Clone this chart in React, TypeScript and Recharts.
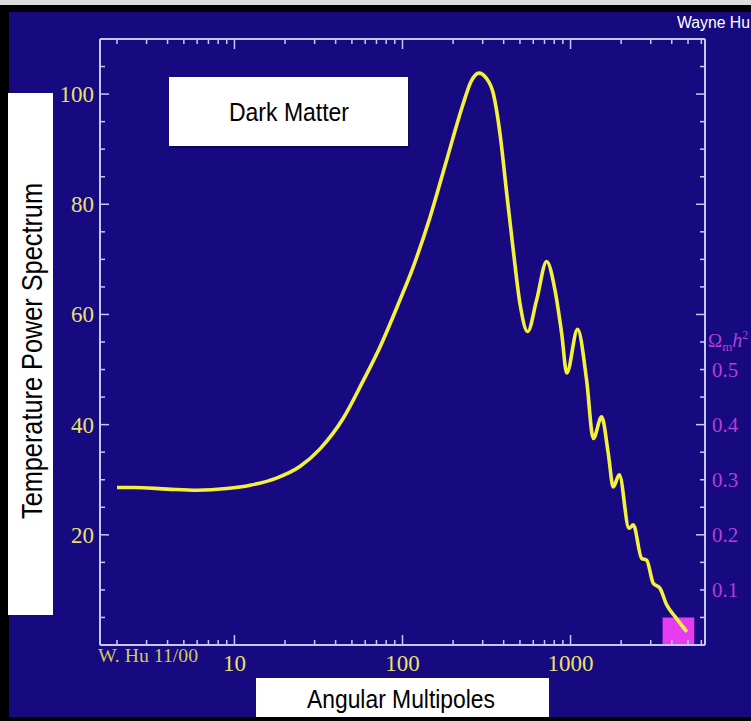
import React from "react";
import { LineChart, Line, XAxis, YAxis, ReferenceArea } from "recharts";

// angular multipole l and temperature power
const multipoles = [
  2, 2.5, 4, 6, 9, 12.4, 17.8, 24.5, 32.3, 44.5, 58, 73.5, 95, 116, 146, 183,
  230, 255, 285, 315, 347, 380, 417, 456, 500, 556, 628, 721, 808, 885, 950,
  1101, 1246, 1366, 1531, 1676, 1795, 1950, 2228, 2362, 2650, 2838, 3105,
  3404, 3731, 4200, 4909,
];
const power = [
  28.6, 28.6, 28.3, 28.1, 28.4, 29.0, 30.3, 32.4, 35.6, 41.2, 47.8, 54.1,
  62.1, 68.7, 77.7, 88.0, 98.3, 102.2, 103.8, 102.9, 100.1, 92.9, 82.0, 71.7,
  62.0, 56.9, 62.6, 69.6, 64.4, 56.6, 49.4, 57.3, 48.1, 37.5, 41.4, 34.8,
  28.7, 30.9, 21.2, 21.8, 15.7, 15.4, 11.2, 10.3, 7.3, 5.1, 2.4,
];

const xTicks = [
  2, 3, 4, 5, 6, 7, 8, 9, 10, 20, 30, 40, 50, 60, 70, 80, 90, 100, 200, 300,
  400, 500, 600, 700, 800, 900, 1000, 2000, 3000, 4000, 5000, 6000,
];
const xLabels = [10, 100, 1000];

const yTicks = [5, 10, 15, 20, 25, 30, 35, 40, 45, 50, 55, 60, 65, 70, 75, 80, 85, 90, 95, 100, 105];
const yLabels = [20, 40, 60, 80, 100];

const omegaTicks = [0.05, 0.1, 0.15, 0.2, 0.25, 0.3, 0.35, 0.4, 0.45, 0.5, 0.55, 0.6, 0.65, 0.7, 0.75, 0.8, 0.85, 0.9, 0.95, 1.0, 1.05];
const omegaLabels = ["0.1", "0.2", "0.3", "0.4", "0.5"];
const omegaTitleAt = 0.55;

// slider marker for the current matter density
const omegaValue = 0.05;
const markerRange = [3530, 5450];

const data = multipoles.map((l, i) => ({ l, power: power[i] }));

const NAVY = "#170a80";
const AXIS = "#c8c8f4";
const YELLOW = "#e9e26a";
const CURVE = "#f4f03e";
const PURPLE = "#b23fd6";
const MAGENTA = "#e53cf0";
const SERIF = "'Liberation Serif', 'Times New Roman', serif";
const SANS = "'Liberation Sans', Arial, sans-serif";

const BottomTick = (props: any) => {
  const { x, y, payload } = props;
  const major = xLabels.includes(payload.value);
  return (
    <g>
      <line x1={x} x2={x} y1={y} y2={y - (major ? 10 : 5)} stroke={AXIS} strokeWidth={1.5} />
      {major && (
        <text x={x} y={y + 26} textAnchor="middle" fill={YELLOW} fontFamily={SERIF} fontSize={23}>
          {payload.value}
        </text>
      )}
    </g>
  );
};

const TopTick = (props: any) => {
  const { x, y, payload } = props;
  const major = xLabels.includes(payload.value);
  return <line x1={x} x2={x} y1={y} y2={y + (major ? 10 : 5)} stroke={AXIS} strokeWidth={1.5} />;
};

const LeftTick = (props: any) => {
  const { x, y, payload } = props;
  const major = yLabels.includes(payload.value);
  return (
    <g>
      <line x1={x} x2={x + (major ? 9 : 5)} y1={y} y2={y} stroke={AXIS} strokeWidth={1.5} />
      {major && (
        <text x={x - 6} y={y + 8} textAnchor="end" fill={YELLOW} fontFamily={SERIF} fontSize={23}>
          {payload.value}
        </text>
      )}
    </g>
  );
};

const RightTick = (props: any) => {
  const { x, y, payload } = props;
  const v = payload.value as number;
  const major = Math.round(v * 100) % 20 === 0;
  const label = omegaLabels.find((s) => Math.abs(parseFloat(s) - v) < 1e-6);
  return (
    <g>
      <line x1={x} x2={x - (major ? 9 : 5)} y1={y} y2={y} stroke={AXIS} strokeWidth={1.5} />
      {label && (
        <text x={x + 7} y={y + 7.5} fill={PURPLE} fontFamily={SERIF} fontSize={21}>
          {label}
        </text>
      )}
      {Math.abs(v - omegaTitleAt) < 1e-6 && (
        <text x={x + 3} y={y + 5} fill={PURPLE} fontFamily={SERIF} fontSize={19}>
          Ω
          <tspan fontSize={13} dy={4}>m</tspan>
          <tspan fontStyle="italic" fontSize={20} dy={-4}>h</tspan>
          <tspan fontSize={12} dy={-8}>2</tspan>
        </text>
      )}
    </g>
  );
};

export default function App() {
  return (
    <div style={{ position: "absolute", left: 0, top: 0, width: 751, height: 721, background: "#000", overflow: "hidden" }}>
      <div style={{ position: "absolute", left: 0, top: 0, width: 751, height: 5, background: "#dcdcdc" }} />
      <div style={{ position: "absolute", left: 9, top: 12, width: 742, height: 705, background: NAVY }} />
      <div style={{ position: "absolute", left: 0, top: 0 }}>
        <LineChart width={751} height={721} data={data} margin={{ top: 19, right: 6, bottom: 46, left: 60 }}>
          <XAxis
            dataKey="l"
            type="number"
            scale="log"
            domain={[Math.pow(10, 0.2), Math.pow(10, 3.8)]}
            allowDataOverflow
            ticks={xTicks}
            interval={0}
            tickSize={0}
            tickMargin={0}
            tickLine={false}
            tick={<BottomTick />}
            axisLine={{ stroke: AXIS, strokeWidth: 2 }}
            height={30}
          />
          <XAxis
            xAxisId="top"
            orientation="top"
            dataKey="l"
            type="number"
            scale="log"
            domain={[Math.pow(10, 0.2), Math.pow(10, 3.8)]}
            allowDataOverflow
            ticks={xTicks}
            interval={0}
            tickSize={0}
            tickMargin={0}
            tickLine={false}
            tick={<TopTick />}
            axisLine={{ stroke: AXIS, strokeWidth: 2 }}
            height={20}
          />
          <YAxis
            yAxisId="left"
            type="number"
            domain={[0, 110]}
            allowDataOverflow
            ticks={yTicks}
            interval={0}
            tickSize={0}
            tickMargin={0}
            tickLine={false}
            tick={<LeftTick />}
            axisLine={{ stroke: AXIS, strokeWidth: 2 }}
            width={40}
          />
          <YAxis
            yAxisId="right"
            orientation="right"
            type="number"
            domain={[0, 1.1]}
            allowDataOverflow
            ticks={omegaTicks}
            interval={0}
            tickSize={0}
            tickMargin={0}
            tickLine={false}
            tick={<RightTick />}
            axisLine={{ stroke: AXIS, strokeWidth: 2 }}
            width={40}
          />
          <ReferenceArea
            yAxisId="right"
            x1={markerRange[0]}
            x2={markerRange[1]}
            y1={0}
            y2={omegaValue}
            fill={MAGENTA}
            fillOpacity={1}
            stroke="none"
          />
          <Line
            yAxisId="left"
            dataKey="power"
            type="monotone"
            stroke={CURVE}
            strokeWidth={3.6}
            dot={false}
            isAnimationActive={false}
          />
        </LineChart>
      </div>
      <svg width={751} height={721} style={{ position: "absolute", left: 0, top: 0, pointerEvents: "none" }}>
        <text x={750} y={28} textAnchor="end" fill="#fff" fontFamily={SANS} fontSize={16} textLength={73} lengthAdjust="spacingAndGlyphs">
          Wayne Hu
        </text>
        <text x={98} y={662} fill="#cfc862" fontFamily={SERIF} fontSize={19} textLength={100} lengthAdjust="spacingAndGlyphs">
          W. Hu 11/00
        </text>
        <rect x={170} y={79} width={239} height={69} fill="#000" opacity={0.3} />
        <rect x={169} y={77} width={239} height={69} fill="#fff" />
        <text x={289} y={121} textAnchor="middle" fill="#000" fontFamily={SANS} fontSize={25} textLength={120} lengthAdjust="spacingAndGlyphs">
          Dark Matter
        </text>
        <rect x={8} y={93} width={45} height={522} fill="#fff" />
        <text
          transform="translate(42 351) rotate(-90)"
          textAnchor="middle"
          fill="#000"
          fontFamily={SANS}
          fontSize={29}
          textLength={336}
          lengthAdjust="spacingAndGlyphs"
        >
          Temperature Power Spectrum
        </text>
        <rect x={256} y={678} width={293} height={39} fill="#fff" />
        <text x={401} y={708} textAnchor="middle" fill="#000" fontFamily={SANS} fontSize={26} textLength={188} lengthAdjust="spacingAndGlyphs">
          Angular Multipoles
        </text>
      </svg>
    </div>
  );
}
